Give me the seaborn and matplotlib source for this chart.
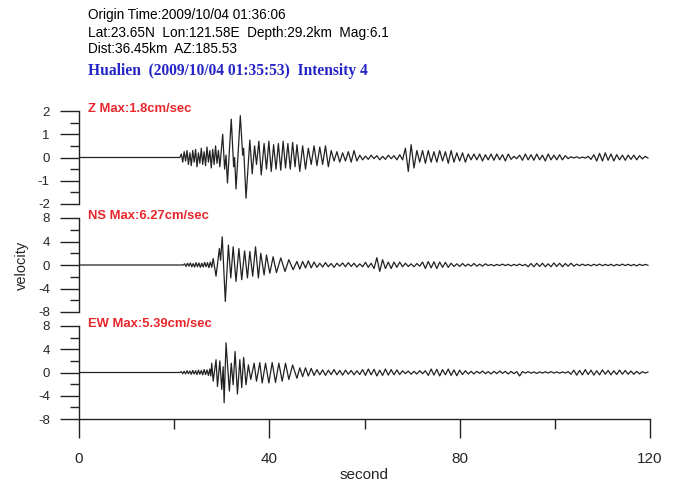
import numpy as np
import pandas as pd
import matplotlib
matplotlib.use('Agg')
import matplotlib.pyplot as plt
import seaborn as sns
from matplotlib.ticker import MultipleLocator

header_lines = [
    'Origin Time:2009/10/04 01:36:06',
    'Lat:23.65N  Lon:121.58E  Depth:29.2km  Mag:6.1',
    'Dist:36.45km  AZ:185.53',
]
station_line = 'Hualien  (2009/10/04 01:35:53)  Intensity 4'

components = ['Z', 'NS', 'EW']
max_labels = ['Z Max:1.8cm/sec', 'NS Max:6.27cm/sec', 'EW Max:5.39cm/sec']
y_limits = [2, 8, 8]
y_major = [1, 4, 4]
y_minor = [0.5, 2, 2]

# onset and strong motion, read peak by peak (seconds, cm/sec)
z_t = [0, 21.2, 21.5, 21.8, 22.1, 22.4, 22.7, 23.0, 23.3, 23.6, 23.9, 24.2, 24.5, 24.8,
       25.1, 25.4, 25.7, 26.0, 26.3, 26.6, 26.9, 27.2, 27.5, 27.8, 28.1, 28.4, 28.7,
       29.0, 29.3, 29.6, 30.2, 30.6, 30.9, 31.2, 32.0, 32.5, 32.7, 33.0, 33.9, 34.4,
       34.6, 35.1, 35.9, 36.4, 36.9, 37.3, 37.8, 38.3, 38.9, 39.4, 39.9, 40.4, 40.9,
       41.4, 41.9, 42.4, 42.9, 43.4, 43.9, 44.4, 44.9, 45.4, 45.8]
z_v = [0, 0, 0.15, -0.2, 0.25, -0.15, 0.3, -0.3, 0.2, -0.35, 0.3, -0.2, 0.35, -0.4,
       0.2, -0.25, 0.4, -0.3, 0.25, -0.35, 0.45, -0.2, 0.3, -0.45, 0.35, -0.3, 0.5,
       -0.25, 0.3, -0.4, 1.0, -0.5, 0.1, -1.1, 1.65, -0.4, 0.0, -1.35, 1.8, 0.1,
       0.4, -1.75, 0.75, -0.7, 0.5, -0.3, 0.7, -0.75, 0.6, -0.5, 0.7, -0.6, 0.55,
       -0.5, 0.6, -0.55, 0.7, -0.45, 0.6, -0.5, 0.65, -0.4, 0.55]

ns_t = [0, 21.9, 22.2, 22.5, 22.8, 23.1, 23.4, 23.7, 24.0, 24.3, 24.6, 24.9, 25.2, 25.5,
        25.8, 26.1, 26.4, 26.7, 27.0, 27.3, 27.6, 27.9, 28.2, 28.8, 29.5, 29.75, 30.1,
        30.75, 31.4, 31.9, 32.4, 33.0, 33.6, 34.2, 34.8, 35.4, 35.9, 36.5, 37.1, 37.7,
        38.2, 38.9, 39.4, 40.1, 40.8, 41.5, 42.4, 43.3, 44.1, 45.0, 45.8]
ns_v = [0, 0, 0.2, -0.25, 0.3, -0.2, 0.35, -0.3, 0.25, -0.35, 0.4, -0.3, 0.35, -0.4,
        0.3, -0.35, 0.45, -0.3, 0.4, -0.45, 0.5, -0.4, 1.1, -1.9, 2.8, 0.8, 4.8,
        -6.2, 3.4, -2.2, 3.1, -2.8, 2.8, -2.5, 2.4, -2.2, 2.3, -1.9, 3.1, -2.2,
        2.0, -1.7, 1.7, -1.4, 1.4, -1.3, 1.2, -1.1, 0.9, -0.8, 0.6]

ew_t = [0, 21.2, 21.5, 21.8, 22.1, 22.4, 22.7, 23.0, 23.3, 23.6, 23.9, 24.2, 24.5, 24.8,
        25.1, 25.4, 25.7, 26.0, 26.3, 26.6, 26.9, 27.2, 27.5, 27.7, 27.9, 28.2, 28.8,
        29.1, 29.6, 30.0, 30.3, 30.5, 30.9, 31.6, 32.0, 32.4, 32.8, 33.3, 33.8, 34.2,
        34.6, 35.1, 35.6, 36.1, 36.8, 37.3, 38.0, 38.5, 39.2, 39.9, 40.6, 41.3, 42.0,
        42.7, 43.4, 44.1, 44.9, 45.8]
ew_v = [0, 0, 0.15, -0.2, 0.2, -0.25, 0.3, -0.2, 0.25, -0.3, 0.35, -0.25, 0.3, -0.35,
        0.4, -0.3, 0.35, -0.4, 0.5, -0.35, 0.45, -0.5, 0.6, -0.6, 1.6, -1.5, 2.2,
        -2.4, 2.0, -2.9, 1.0, -5.2, 5.1, -3.2, 1.6, -2.1, 3.6, -3.7, 2.2, -2.6,
        2.6, -2.1, 1.3, -1.2, 1.6, -1.5, 1.7, -1.8, 1.6, -1.8, 1.7, -1.7, 1.6,
        -1.5, 1.6, -1.2, 1.3, -1.0]

# coda, one reading every half cycle from 46.4 s on
coda_start = 46.4
coda_step = 0.6
z_coda = [-0.6, 0.5, -0.5, 0.4, -0.3, 0.5, -0.35, 0.45, -0.3, 0.5,
          -0.4, 0.3, -0.15, 0.25, -0.2, 0.2, -0.15, 0.25, -0.2, 0.3, -0.15,
          0.1, -0.1, 0.06, -0.08, 0.1, -0.05, 0.08, -0.1, 0.05, -0.08, 0.1, -0.05, 0.08, -0.1, 0.12, -0.1,
          0.4, -0.6, 0.55, -0.45,
          0.3, -0.2, 0.3, -0.25, 0.3, -0.2, 0.25, -0.2, 0.3, -0.15, 0.25, -0.25, 0.3, -0.2, 0.2, -0.15,
          0.2, -0.2, 0.15, -0.1,
          0.15, -0.1, 0.15, -0.15, 0.12, -0.1, 0.15, -0.12, 0.15, -0.1, 0.12, -0.15, 0.15, -0.08, 0.05,
          -0.05, 0.1, -0.12, 0.15, -0.1, 0.12, -0.12, 0.15, -0.1, 0.1, -0.15, 0.15, -0.1, 0.1, -0.1,
          0.12, -0.1, 0.08, -0.05,
          0.03, -0.02, 0.03, -0.03, 0.02, -0.03, 0.05, -0.08,
          0.12, -0.15, 0.18, -0.15, 0.2, -0.12, 0.15, -0.15, 0.12, -0.1, 0.1, -0.12, 0.1,
          -0.08, 0.1, -0.1, 0.08, -0.06, 0.05, -0.03]
ns_coda = [-0.7, 0.6, -0.5, 0.7, -0.5, 0.5,
           -0.4, 0.3, -0.35, 0.4, -0.3, 0.25, -0.4, 0.3, -0.2, 0.35, -0.3, 0.4, -0.25, 0.3,
           -0.35, 0.2, -0.3, 0.45, -0.4, 0.3,
           -0.6, 1.25, -1.1, 0.9,
           -0.6, 0.5, -0.6, 0.5, -0.4, 0.5, -0.3,
           0.3, -0.25, 0.2, -0.3, 0.25, -0.2,
           0.5, -0.6, 0.6, -0.5, 0.55, -0.6, 0.5, -0.4, 0.45, -0.4, 0.3,
           -0.25, 0.2, -0.25, 0.25, -0.2, 0.15, -0.2, 0.25, -0.2, 0.15, -0.2, 0.2, -0.1,
           0.1, -0.15, 0.1, -0.1, 0.15, -0.1, 0.12, -0.15, 0.1, -0.1, 0.15, -0.12, 0.1,
           -0.3, 0.25, -0.3, 0.3, -0.25, 0.3, -0.3, 0.2, -0.3, 0.35, -0.25, 0.3, -0.3, 0.25,
           -0.2, 0.3, -0.2,
           0.15, -0.12, 0.15, -0.1, 0.1, -0.15, 0.12, -0.1, 0.15, -0.12, 0.1, -0.1, 0.12,
           -0.15, 0.1, -0.1, 0.15, -0.1, 0.12, -0.12, 0.1, -0.15, 0.12, -0.1, 0.1, -0.05]
ew_coda = [0.8, -0.7, 0.8, -0.6, 0.7, -0.5,
           0.5, -0.4, 0.45, -0.5, 0.4, -0.35, 0.5, -0.4, 0.35, -0.45, 0.4, -0.3, 0.35, -0.4,
           0.3, -0.35,
           0.5, -0.5, 0.6, -0.4, 0.55, -0.6, 0.4, -0.5, 0.6, -0.45, 0.5, -0.4, 0.45, -0.35,
           0.3, -0.2, 0.25, -0.3, 0.2, -0.25, 0.3, -0.2, 0.3,
           -0.5, 0.6, -0.45, 0.55, -0.6, 0.5, -0.4, 0.6, -0.5, 0.45, -0.55, 0.4, -0.35, 0.3,
           -0.25, 0.2, -0.25, 0.2, -0.15, 0.25, -0.2, 0.15, -0.25, 0.2, -0.2, 0.25, -0.15, 0.2,
           -0.25, 0.2, -0.2, 0.15,
           -0.6,
           0.15, -0.1, 0.15, -0.12, 0.1, -0.15, 0.1, -0.1, 0.12, -0.1, 0.15, -0.1, 0.1, -0.12,
           0.1, -0.1, 0.15,
           -0.3, 0.4, -0.45, 0.35, -0.4, 0.5, -0.35, 0.4, -0.45, 0.3, -0.4, 0.45, -0.3, 0.35,
           -0.4, 0.3, -0.35, 0.4, -0.3, 0.35, -0.3, 0.25, -0.3, 0.2, -0.25,
           0.15, -0.1, 0.1]

x_major = [0, 40, 80, 120]
x_minor = [20, 60, 100]

W, H = 678, 483
RED = '#e8262b'
BLUE = '#2424c8'
INK = '#222222'


def build_trace(t_strong, v_strong, coda):
    t_coda = coda_start + coda_step * np.arange(len(coda))
    return pd.DataFrame({'t': np.concatenate([t_strong, t_coda]),
                         'v': np.concatenate([v_strong, coda])})


def draw_panel(ax, df, lim, major, minor, label, bottom):
    sns.lineplot(data=df, x='t', y='v', ax=ax, color=INK, linewidth=0.9,
                 estimator=None, sort=False)
    ax.set_xlim(0, 120)
    ax.set_ylim(-lim, lim)
    ax.yaxis.set_major_locator(MultipleLocator(major))
    ax.yaxis.set_minor_locator(MultipleLocator(minor))
    ax.set_xlabel('')
    ax.set_ylabel('')
    for side in ['top', 'right']:
        ax.spines[side].set_visible(False)
    ax.spines['left'].set_color(INK)
    ax.spines['left'].set_linewidth(1.0)
    ax.tick_params(axis='y', which='major', left=True, length=14, width=1.0,
                   color=INK, labelsize=9.5, pad=7)
    ax.tick_params(axis='y', which='minor', left=True, length=6.5, width=1.0, color=INK)
    if bottom:
        ax.spines['bottom'].set_color(INK)
        ax.spines['bottom'].set_linewidth(1.0)
        ax.set_xticks(x_major)
        ax.set_xticks(x_minor, minor=True)
        ax.tick_params(axis='x', which='major', bottom=True, length=14, width=1.0,
                       color=INK, labelsize=11, pad=10)
        ax.tick_params(axis='x', which='minor', bottom=True, length=7, width=1.0, color=INK)
        ax.set_xlabel('second', fontsize=11, labelpad=1)
    else:
        ax.spines['bottom'].set_visible(False)
        ax.set_xticks([])
    ax.text(9 / 571, 1.02, label, transform=ax.transAxes, color=RED, fontsize=9.4,
            fontweight='bold', ha='left', va='center')
    ax.patch.set_alpha(0)


def main():
    sns.set_style('white')
    plt.rcParams['font.family'] = ['Liberation Sans', 'DejaVu Sans']
    plt.rcParams['axes.unicode_minus'] = False

    traces = [build_trace(z_t, z_v, z_coda),
              build_trace(ns_t, ns_v, ns_coda),
              build_trace(ew_t, ew_v, ew_coda)]

    fig = plt.figure(figsize=(W / 100, H / 100), dpi=100)
    panel_px = [(111, 204), (218, 312), (326, 419)]
    left, right = 79, 650
    for i, comp in enumerate(components):
        top, bot = panel_px[i]
        ax = fig.add_axes([left / W, 1 - bot / H, (right - left) / W, (bot - top) / H])
        draw_panel(ax, traces[i], y_limits[i], y_major[i], y_minor[i], max_labels[i],
                   bottom=(i == len(components) - 1))

    for y, line in zip([15, 33, 49], header_lines):
        fig.text(88 / W, 1 - y / H, line, fontsize=9.8, color='black', ha='left', va='center')
    fig.text(88 / W, 1 - 71 / H, station_line, fontsize=11.2, color=BLUE, fontweight='bold',
             family=['Liberation Serif', 'DejaVu Serif'], ha='left', va='center')
    fig.text(22 / W, 1 - 265 / H, 'velocity', fontsize=10.5, rotation=90,
             ha='center', va='center')

    fig.savefig('out.png', dpi=100)


if __name__ == '__main__':
    main()
